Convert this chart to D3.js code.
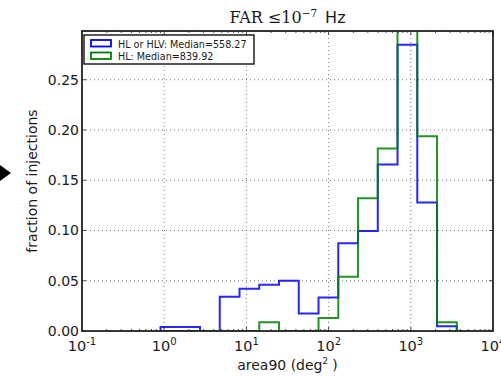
<!DOCTYPE html>
<html>
<head>
<meta charset="utf-8">
<script src="https://cdn.jsdelivr.net/npm/d3@7"></script>
<style>
  body { margin: 0; background: #fff; }
  text { font-family: "DejaVu Sans", sans-serif; fill: #1a1a1a; }
</style>
</head>
<body>
<div id="chart"></div>
<script>
// bin edges (deg^2), log spaced histogram
const binEdges = [0.902, 1.568, 2.727, 4.742, 8.245, 14.34, 24.94, 43.37, 75.42, 131.1, 228.0, 396.6, 689.5, 1199, 2085, 3627];
const hlOrHlv = [0.004, 0.004, 0, 0.034, 0.042, 0.046, 0.050, 0.0174, 0.0334, 0.0873, 0.0996, 0.1656, 0.2848, 0.1279, 0.0047];
const hlOnly  = [0, 0, 0, 0, 0, 0.0087, 0, 0, 0.013, 0.054, 0.132, 0.1816, 0.33, 0.1938, 0.0087];
const seriesNames = ["HL or HLV: Median=558.27", "HL: Median=839.92"];
const yTicks = [0, 0.05, 0.10, 0.15, 0.20, 0.25];
const xTickExp = [-1, 0, 1, 2, 3, 4];

const width = 501,
      height = 376;
const margin = {top: 31, right: 8, bottom: 45, left: 82};

const svg = d3.select("#chart")
.append("svg")
  .attr("width", width)
  .attr("height", height);

const x = d3.scaleLog()
.domain([0.1, 10000])
.range([margin.left, width - margin.right]);
const y = d3.scaleLinear()
.domain([0, 0.2985])
.range([height - margin.bottom, margin.top]);

svg.append("defs").append("clipPath")
  .attr("id", "clip")
.append("rect")
  .attr("x", margin.left)
  .attr("y", margin.top)
  .attr("width", x.range()[1] - x.range()[0])
  .attr("height", y.range()[0] - y.range()[1]);

// grid
const grid = svg.append("g")
  .attr("stroke", "#555")
  .attr("stroke-width", 0.8)
  .attr("stroke-dasharray", "1,3");
grid.selectAll(".gx")
.data(xTickExp.slice(1, -1))
.enter()
.append("line")
  .attr("x1", d => x(Math.pow(10, d)))
  .attr("x2", d => x(Math.pow(10, d)))
  .attr("y1", y.range()[0])
  .attr("y2", y.range()[1]);
grid.selectAll(".gy")
.data(yTicks.slice(1))
.enter()
.append("line")
  .attr("x1", x.range()[0])
  .attr("x2", x.range()[1])
  .attr("y1", d => y(d))
  .attr("y2", d => y(d));

// step histograms
function stepPath(values) {
  const pts = [[binEdges[0], 0]];
  values.forEach((v, i) => {
    pts.push([binEdges[i], v]);
    pts.push([binEdges[i + 1], v]);
  });
  pts.push([binEdges[binEdges.length - 1], 0]);
  return d3.line().x(d => x(d[0])).y(d => y(d[1]))(pts);
}
const colors = ["#0000ff", "#008000"];
[hlOrHlv, hlOnly].forEach((vals, i) => {
  svg.append("path")
    .attr("d", stepPath(vals))
    .attr("fill", "none")
    .attr("stroke", colors[i])
    .attr("stroke-width", 2)
    .attr("opacity", 0.85)
    .attr("clip-path", "url(#clip)");
});

// ticks (inside, on all four sides)
const ticks = svg.append("g").attr("stroke", "#222").attr("stroke-width", 0.8);
const minor = [];
for (let e = -1; e < 4; e++) for (let m = 2; m < 10; m++) minor.push(m * Math.pow(10, e));
[[y.range()[0], -1], [y.range()[1], 1]].forEach(([yy, dir]) => {
  ticks.selectAll(null)
  .data(xTickExp)
  .enter()
  .append("line")
    .attr("x1", d => x(Math.pow(10, d)))
    .attr("x2", d => x(Math.pow(10, d)))
    .attr("y1", yy)
    .attr("y2", yy + dir * 4);
  ticks.selectAll(null)
  .data(minor)
  .enter()
  .append("line")
    .attr("x1", d => x(d))
    .attr("x2", d => x(d))
    .attr("y1", yy)
    .attr("y2", yy + dir * 2);
});
[[x.range()[0], 1], [x.range()[1], -1]].forEach(([xx, dir]) => {
  ticks.selectAll(null)
  .data(yTicks)
  .enter()
  .append("line")
    .attr("x1", xx)
    .attr("x2", xx + dir * 4)
    .attr("y1", d => y(d))
    .attr("y2", d => y(d));
});

// frame
svg.append("rect")
  .attr("x", x.range()[0])
  .attr("y", y.range()[1])
  .attr("width", x.range()[1] - x.range()[0])
  .attr("height", y.range()[0] - y.range()[1])
  .attr("fill", "none")
  .attr("stroke", "#222")
  .attr("stroke-width", 1.8);

// y tick labels
svg.selectAll(".ylab")
.data(yTicks)
.enter()
.append("text")
  .attr("x", x.range()[0] - 3)
  .attr("y", d => y(d) + 5)
  .attr("text-anchor", "end")
  .style("font-size", "14px")
  .text(d => d.toFixed(2));

// x tick labels 10^n
const xl = svg.selectAll(".xlab")
.data(xTickExp)
.enter()
.append("text")
  .attr("x", d => x(Math.pow(10, d)))
  .attr("y", y.range()[0] + 20)
  .attr("text-anchor", "middle")
  .style("font-size", "14.5px");
xl.append("tspan").text("10");
xl.append("tspan")
  .attr("dy", -6)
  .style("font-size", "10px")
  .text(d => d);

// axis labels
svg.append("text")
  .attr("transform", `translate(37,${(y.range()[0] + y.range()[1]) / 2}) rotate(-90)`)
  .attr("text-anchor", "middle")
  .style("font-size", "14px")
  .text("fraction of injections");
const xlabel = svg.append("text")
  .attr("x", (x.range()[0] + x.range()[1]) / 2)
  .attr("y", 370)
  .attr("text-anchor", "middle")
  .style("font-size", "14px");
xlabel.append("tspan").text("area90 (deg");
xlabel.append("tspan").attr("dy", -6).style("font-size", "8.5px").text("2");
xlabel.append("tspan").attr("dy", 6).text(" )");

// title
const title = svg.append("text")
  .attr("x", (x.range()[0] + x.range()[1]) / 2)
  .attr("y", 23)
  .attr("text-anchor", "middle")
  .style("font-size", "16px");
title.append("tspan").style("font-family", "'DejaVu Serif', serif").text("FAR \u226410");
title.append("tspan").attr("dy", -6).style("font-family", "'DejaVu Serif', serif").style("font-size", "10.5px").text("\u22127");
title.append("tspan").attr("dy", 6).style("font-family", "'DejaVu Sans', sans-serif").text("\u2002Hz");

// legend
const legend = svg.append("g");
legend.append("rect")
  .attr("x", 84)
  .attr("y", 35)
  .attr("width", 170)
  .attr("height", 29)
  .attr("fill", "#fff")
  .attr("stroke", "#111")
  .attr("stroke-width", 1.4);
seriesNames.forEach((name, i) => {
  legend.append("rect")
    .attr("x", 91)
    .attr("y", 40 + i * 12.5)
    .attr("width", 20)
    .attr("height", 6.5)
    .attr("fill", "none")
    .attr("stroke", colors[i])
    .attr("stroke-width", 1.8);
  legend.append("text")
    .attr("x", 118)
    .attr("y", 47.5 + i * 12.5)
    .style("font-size", "9.6px")
    .text(name);
});

// black pointer arrow at the left edge
svg.append("path")
  .attr("d", d3.line()([[0, 165], [11, 173], [0, 181]]) + "Z")
  .attr("fill", "#000");
</script>
</body>
</html>
